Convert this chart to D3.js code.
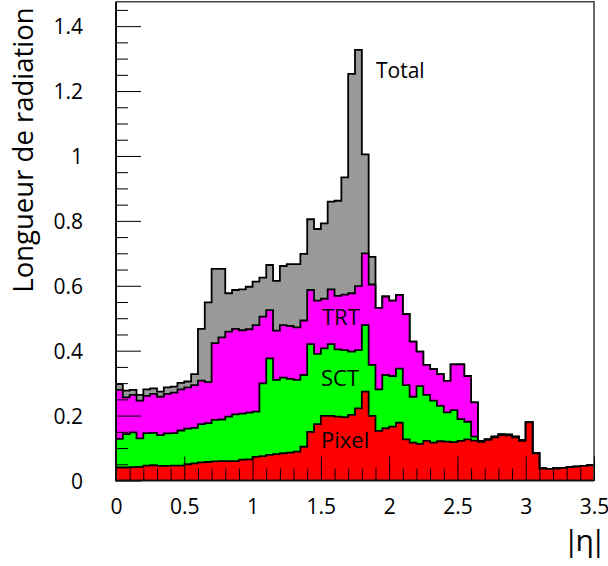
<!DOCTYPE html>
<html>
<head>
<meta charset="utf-8">
<script src="https://cdn.jsdelivr.net/npm/d3@7"></script>
<style>
  html, body { margin: 0; padding: 0; background: #fff; }
  svg { display: block; font-family: "Open Sans", sans-serif; }
</style>
</head>
<body>
<svg id="chart" width="608" height="566"></svg>
<script>
// |eta| bins: 70 bins of width 0.05 from 0 to 3.5
const etaMin = 0, etaMax = 3.5, binWidth = 0.05;

// Cumulative stacked levels (radiation lengths), one value per bin
const pixelLevel = [
  0.040, 0.040, 0.041, 0.042, 0.046, 0.047, 0.045, 0.045, 0.046, 0.046,
  0.050, 0.053, 0.056, 0.057, 0.059, 0.060, 0.060, 0.060, 0.064, 0.065,
  0.073, 0.075, 0.079, 0.081, 0.084, 0.086, 0.089, 0.104, 0.150, 0.174,
  0.199, 0.199, 0.197, 0.195, 0.202, 0.222, 0.274, 0.199, 0.153, 0.161,
  0.166, 0.178, 0.127, 0.117, 0.113, 0.122, 0.117, 0.121, 0.120, 0.118,
  0.122, 0.127, 0.123, 0.119, 0.125, 0.133, 0.140, 0.139, 0.133, 0.122,
  0.179, 0.084, 0.037, 0.036, 0.037, 0.039, 0.041, 0.043, 0.045, 0.047
];
const sctLevel = [
  0.128, 0.143, 0.148, 0.130, 0.146, 0.147, 0.140, 0.145, 0.146, 0.154,
  0.160, 0.162, 0.174, 0.177, 0.187, 0.188, 0.197, 0.204, 0.206, 0.209,
  0.212, 0.299, 0.376, 0.310, 0.317, 0.313, 0.310, 0.325, 0.420, 0.390,
  0.407, 0.420, 0.404, 0.402, 0.397, 0.402, 0.479, 0.356, 0.281, 0.325,
  0.322, 0.345, 0.294, 0.258, 0.291, 0.264, 0.246, 0.230, 0.210, 0.217,
  0.189, 0.181, 0.135, 0.121, 0.127, 0.135, 0.142, 0.141, 0.135, 0.124,
  0.180, 0.085, 0.037, 0.036, 0.037, 0.039, 0.041, 0.043, 0.045, 0.047
];
const trtLevel = [
  0.279, 0.256, 0.264, 0.246, 0.261, 0.267, 0.258, 0.267, 0.271, 0.281,
  0.287, 0.294, 0.308, 0.303, 0.423, 0.441, 0.459, 0.467, 0.463, 0.466,
  0.479, 0.505, 0.525, 0.462, 0.479, 0.476, 0.472, 0.493, 0.587, 0.554,
  0.560, 0.589, 0.569, 0.573, 0.577, 0.599, 0.700, 0.604, 0.532, 0.567,
  0.554, 0.572, 0.513, 0.428, 0.397, 0.356, 0.343, 0.328, 0.307, 0.358,
  0.358, 0.322, 0.241, 0.121, 0.127, 0.135, 0.142, 0.141, 0.135, 0.124,
  0.180, 0.085, 0.037, 0.036, 0.037, 0.039, 0.041, 0.043, 0.045, 0.047
];
const totalLevel = [
  0.297, 0.277, 0.279, 0.264, 0.281, 0.284, 0.274, 0.287, 0.289, 0.301,
  0.305, 0.328, 0.467, 0.549, 0.652, 0.652, 0.577, 0.587, 0.589, 0.597,
  0.613, 0.625, 0.664, 0.615, 0.661, 0.667, 0.667, 0.698, 0.805, 0.775,
  0.792, 0.859, 0.862, 0.934, 1.253, 1.327, 1.005, 0.689, 0.532, 0.567,
  0.554, 0.572, 0.513, 0.428, 0.397, 0.356, 0.343, 0.328, 0.307, 0.358,
  0.358, 0.322, 0.241, 0.121, 0.127, 0.135, 0.142, 0.141, 0.135, 0.124,
  0.180, 0.085, 0.037, 0.036, 0.037, 0.039, 0.041, 0.043, 0.045, 0.047
];

const seriesNames = ["Total", "TRT", "SCT", "Pixel"];
const seriesData = [totalLevel, trtLevel, sctLevel, pixelLevel];
const seriesColors = ["#999999", "#ff00ff", "#00ff00", "#ff0000"];

const xMajorTicks = [0, 0.5, 1, 1.5, 2, 2.5, 3, 3.5];
const yMajorTicks = [0, 0.2, 0.4, 0.6, 0.8, 1, 1.2, 1.4];
const xTitle = "|\u03b7|";
const yTitle = "Longueur de radiation";

const svg = d3.select("#chart");
const L = 116, R = 594, T = 1.8, B = 480.5;
const x = d3.scaleLinear().domain([etaMin, etaMax]).range([L, R]);
const y = d3.scaleLinear().domain([0, 1.475]).range([B, T]);

function histPoints(vals) {
  const pts = [[etaMin, 0]];
  vals.forEach((v, i) => {
    const x0 = etaMin + i * binWidth, x1 = x0 + binWidth;
    pts.push([x0, v], [x1, v]);
  });
  pts.push([etaMax, 0]);
  return pts;
}

const line = d3.line().x(d => x(d[0])).y(d => y(d[1]));

seriesData.forEach((vals, k) => {
  const pts = histPoints(vals);
  svg.append("path")
    .attr("d", line(pts) + "Z")
    .attr("fill", seriesColors[k])
    .attr("stroke", "none");
  svg.append("path")
    .attr("d", line(pts))
    .attr("fill", "none")
    .attr("stroke", "#000")
    .attr("stroke-width", 1.8)
    .attr("stroke-linejoin", "miter");
});

// Frame (top & right)
svg.append("path")
  .attr("d", `M${L},${T}H${R}V${B}`)
  .attr("fill", "none").attr("stroke", "#444").attr("stroke-width", 1.6);

// Axes
const fmt = d3.format("~g");
const xMinor = d3.range(0, 35.5).map(i => i / 10).filter(v => Math.abs(v * 2 - Math.round(v * 2)) > 1e-6);
const yMinor = d3.range(0, 30).map(i => i * 0.05).filter(v => Math.abs(v * 5 - Math.round(v * 5)) > 1e-6 && v < 1.476);

const gxMinor = svg.append("g").attr("transform", `translate(0,${B})`)
  .call(d3.axisBottom(x).tickValues(xMinor).tickSize(-12).tickFormat(""));
const gx = svg.append("g").attr("transform", `translate(0,${B})`)
  .call(d3.axisBottom(x).tickValues(xMajorTicks).tickSize(-24).tickPadding(19).tickFormat(fmt));
const gyMinor = svg.append("g").attr("transform", `translate(${L},0)`)
  .call(d3.axisLeft(y).tickValues(yMinor).tickSize(-12).tickFormat(""));
const gy = svg.append("g").attr("transform", `translate(${L},0)`)
  .call(d3.axisLeft(y).tickValues(yMajorTicks).tickSize(-25).tickPadding(33).tickFormat(fmt));

[gx, gxMinor, gy, gyMinor].forEach(g => {
  g.select(".domain").remove();
  g.selectAll(".tick line").attr("stroke", "#000").attr("stroke-width", 1);
  g.selectAll("text").attr("font-family", "Open Sans").attr("font-size", 21).attr("fill", "#000");
});
gy.selectAll(".tick text").attr("dy", "0.36em");

// Axis lines
svg.append("path").attr("d", `M${L},${T}V${B}H${R}`)
  .attr("fill", "none").attr("stroke", "#111").attr("stroke-width", 2);

// Titles
svg.append("text")
  .attr("transform", `translate(33,150) rotate(-90)`)
  .attr("text-anchor", "middle")
  .attr("font-size", 27.5)
  .text(yTitle);
svg.append("text")
  .attr("x", 563).attr("y", 551)
  .attr("font-size", 30)
  .attr("letter-spacing", "-4px")
  .text(xTitle);

// Series labels
const labelPos = { "Total": [376, 78], "TRT": [322, 325], "SCT": [321, 386], "Pixel": [321, 448] };
seriesNames.forEach(name => {
  svg.append("text")
    .attr("x", labelPos[name][0]).attr("y", labelPos[name][1])
    .attr("font-size", name === "Total" ? 21 : 22)
    .attr("fill", "#000")
    .text(name);
});
</script>
</body>
</html>
